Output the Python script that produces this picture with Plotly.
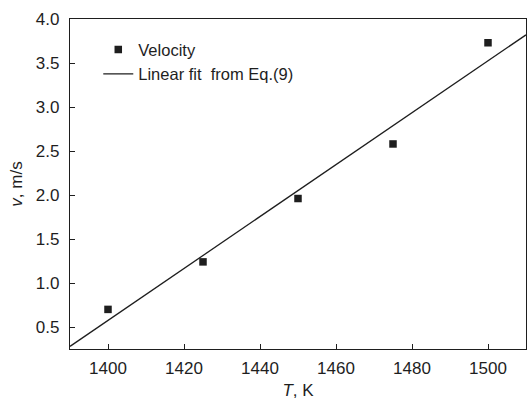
import plotly.graph_objects as go

# Data
temperature = [1400, 1425, 1450, 1475, 1500]
velocity = [0.70, 1.24, 1.96, 2.58, 3.73]
fit_T = [1390, 1510]
fit_v = [0.28, 3.82]

x_ticks = [1400, 1420, 1440, 1460, 1480, 1500]
y_ticks = [0.5, 1.0, 1.5, 2.0, 2.5, 3.0, 3.5, 4.0]

ink = "#1e1e1e"
font = "Liberation Sans, Arial, sans-serif"

fig = go.Figure()
fig.add_trace(go.Scatter(
    x=temperature, y=velocity, mode="markers", name="Velocity",
    marker=dict(symbol="square", size=7.5, color=ink),
))
fig.add_trace(go.Scatter(
    x=fit_T, y=fit_v, mode="lines", name="Linear fit  from Eq.(9)",
    line=dict(color=ink, width=1.3),
))

axis_common = dict(
    showline=True, linecolor=ink, linewidth=1.3, mirror=True,
    ticks="inside", ticklen=5, tickwidth=1.2, tickcolor=ink,
    showgrid=False, zeroline=False,
    tickfont=dict(family=font, size=17, color=ink),
)

fig.update_layout(
    width=527, height=400,
    margin=dict(l=70, r=1, t=19, b=51),
    paper_bgcolor="white", plot_bgcolor="white",
    font=dict(family=font, size=17, color=ink),
    xaxis=dict(range=[1390, 1510], tickvals=x_ticks, ticklabelstandoff=3,
               title=dict(text="<i>T</i>, K", font=dict(size=17), standoff=9),
               **axis_common),
    yaxis=dict(range=[0.25, 4.0], tickvals=y_ticks, ticklabelstandoff=6,
               ticktext=[f"{v:.1f}" for v in y_ticks],
               title=dict(text="<i>v</i>, m/s", font=dict(size=17), standoff=8),
               **axis_common),
    legend=dict(x=0.062, y=0.96, xanchor="left", yanchor="top",
                bgcolor="rgba(0,0,0,0)", font=dict(size=16.5, color=ink),
                tracegroupgap=0),
    showlegend=True,
)

fig.write_html("out.html")
